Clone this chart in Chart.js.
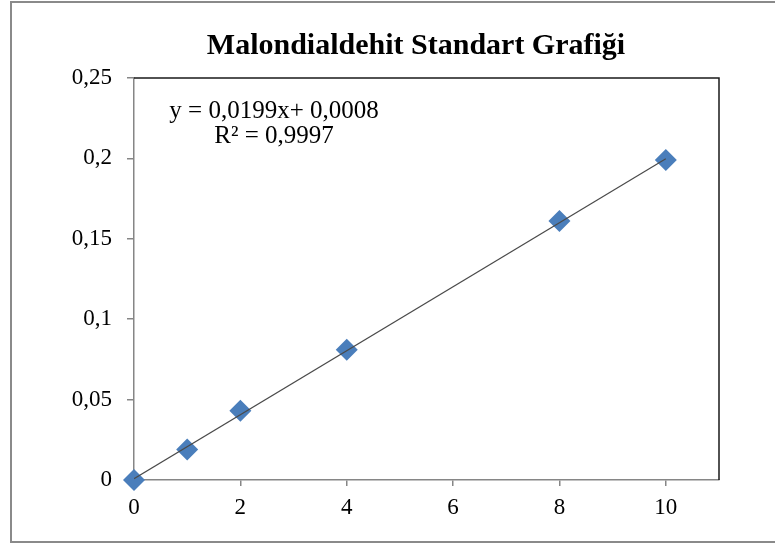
<!DOCTYPE html>
<html>
<head>
<meta charset="utf-8">
<script src="https://cdn.jsdelivr.net/npm/chart.js@4/dist/chart.umd.min.js"></script>
<style>
  html, body { margin: 0; padding: 0; background: #fff; overflow: hidden; }
  #wrap { position: relative; width: 775px; height: 544px; overflow: hidden; }
  #frame { position: absolute; left: 10px; top: 1px; width: 1000px; height: 538px; border: 2px solid #8a8a8a; }
  canvas { position: absolute; left: 0; top: 0; }
</style>
</head>
<body>
<div id="wrap">
  <div id="frame"></div>
  <canvas id="c" width="775" height="544"></canvas>
</div>
<script>
const titleText = 'Malondialdehit Standart Grafiği';
const concentrations = [0, 1, 2, 4, 8, 10];
const absorbances = [0, 0.019, 0.043, 0.081, 0.161, 0.199];
const trendX = [0, 10];
const trendY = [0.0008, 0.1998];
const equationLines = ['y = 0,0199x+ 0,0008', 'R² = 0,9997'];
const xTicks = [0, 2, 4, 6, 8, 10];
const yTicks = [0, 0.05, 0.1, 0.15, 0.2, 0.25];

const serif = "'Liberation Serif', 'Times New Roman', serif";

const frameLines = {
  id: 'frameLines',
  afterDatasetsDraw(chart) {
    const a = chart.chartArea, ctx = chart.ctx;
    ctx.save();
    ctx.strokeStyle = '#1a1a1a';
    ctx.lineWidth = 1.5;
    ctx.beginPath();
    ctx.moveTo(a.left, a.top);
    ctx.lineTo(a.right, a.top);
    ctx.lineTo(a.right, a.bottom);
    ctx.stroke();
    ctx.restore();
  },
  afterDraw(chart) {
    const a = chart.chartArea, ctx = chart.ctx;
    ctx.save();
    ctx.fillStyle = '#000';
    ctx.font = '25px ' + serif;
    ctx.textAlign = 'center';
    ctx.textBaseline = 'alphabetic';
    ctx.fillText(equationLines[0], a.left + 140, a.top + 40);
    ctx.fillText(equationLines[1], a.left + 140, a.top + 65);
    ctx.restore();
  }
};

new Chart(document.getElementById('c'), {
  type: 'scatter',
  data: {
    datasets: [
      {
        label: 'Trend',
        type: 'line',
        data: trendX.map((x, i) => ({ x: x, y: trendY[i] })),
        borderColor: '#4a4a4a',
        borderWidth: 1.2,
        pointRadius: 0,
        fill: false,
        order: 0
      },
      {
        label: 'MDA',
        data: concentrations.map((x, i) => ({ x: x, y: absorbances[i] })),
        pointStyle: 'rectRot',
        pointRadius: 11,
        backgroundColor: '#4a7ebb',
        borderColor: '#4a7ebb',
        borderWidth: 0,
        clip: false,
        order: 1
      }
    ]
  },
  options: {
    responsive: false,
    animation: false,
    devicePixelRatio: 1,
    layout: { padding: { left: 57, right: 0, top: 0, bottom: 0 } },
    plugins: {
      legend: { display: false },
      tooltip: { enabled: false },
      title: {
        display: true,
        text: titleText,
        color: '#000',
        font: { family: serif, size: 30, weight: 'bold' },
        padding: { top: 28, bottom: 14 }
      }
    },
    scales: {
      x: {
        type: 'linear',
        min: 0,
        max: 11,
        afterBuildTicks(scale) { scale.ticks = xTicks.map(v => ({ value: v })); },
        afterFit(scale) { scale.height = 64; },
        border: { display: true, color: '#868686', width: 1.5 },
        grid: { display: true, drawOnChartArea: false, drawTicks: true, tickLength: 6, color: '#868686', lineWidth: 1.5 },
        ticks: {
          color: '#000',
          padding: 8,
          maxRotation: 0,
          font: { family: serif, size: 23 },
          callback: v => String(v)
        }
      },
      y: {
        type: 'linear',
        min: 0,
        max: 0.25,
        afterBuildTicks(scale) { scale.ticks = yTicks.map(v => ({ value: v })); },
        afterFit(scale) { scale.width = 77; },
        border: { display: true, color: '#868686', width: 1.5 },
        grid: { display: true, drawOnChartArea: false, drawTicks: true, tickLength: 7, color: '#868686', lineWidth: 1.5 },
        ticks: {
          color: '#000',
          padding: 15,
          font: { family: serif, size: 23 },
          callback: v => String(Number(v.toFixed(2))).replace('.', ',')
        }
      },
      yRight: {
        type: 'linear',
        position: 'right',
        display: true,
        min: 0,
        max: 0.25,
        afterFit(scale) { scale.width = 56; },
        border: { display: false },
        grid: { display: false },
        ticks: { display: false }
      }
    }
  },
  plugins: [frameLines]
});
</script>
</body>
</html>
